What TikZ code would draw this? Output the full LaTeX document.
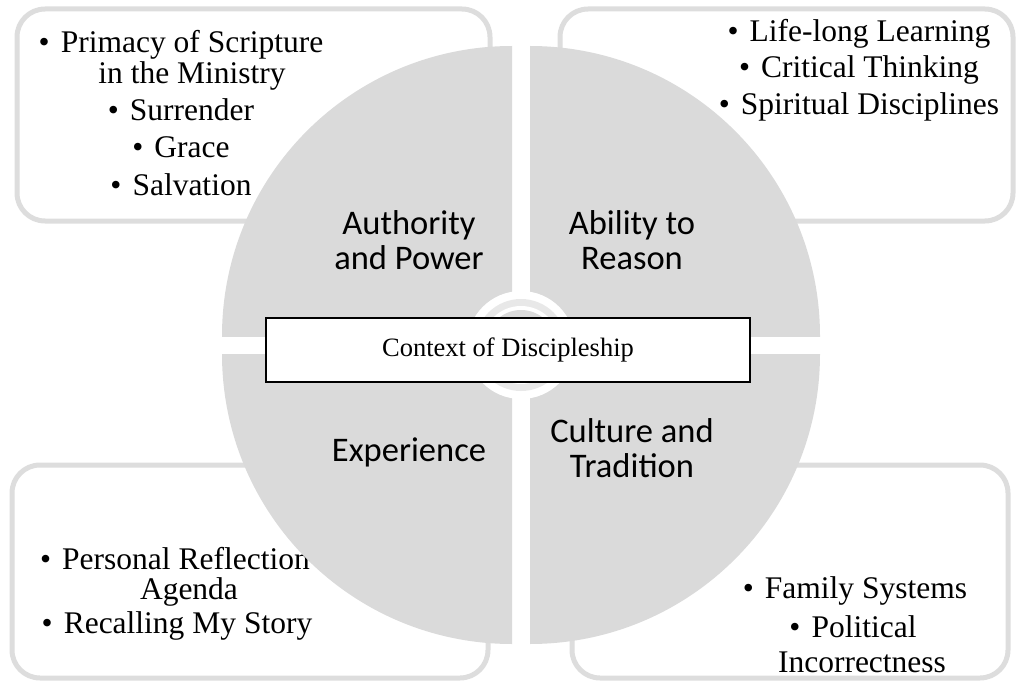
\documentclass[tikz,border=0pt]{standalone}
\usepackage{fontspec}
\setmainfont{Liberation Serif}
\newfontfamily\labelfont{Carlito}

\definecolor{quadgray}{HTML}{DADADA}
\definecolor{framegray}{HTML}{DDDDDD}
\definecolor{ringgray}{HTML}{E8E8E8}

% hanging bullet, so the words stay centred
\newcommand{\bul}{\llap{\textbullet\hspace{0.35em}}}

\begin{document}
\begin{tikzpicture}[
    x=1pt, y=-1pt,
    frame/.style={draw=framegray, line width=5pt, fill=white, rounded corners=28pt},
    point/.style={anchor=base, inner sep=0pt, font=\fontsize{31.5}{32}\selectfont},
    quad/.style={align=center, inner sep=0pt, font=\labelfont\fontsize{34.5}{35}\selectfont},
    ctxbox/.style={draw=black, line width=2pt, fill=white, minimum width=484pt, minimum height=64pt, font=\fontsize{26.5}{28}\selectfont}
]

\useasboundingbox (0,0) rectangle (1018,682);

% Outer frames (partly hidden by the wheel)
\draw[frame] (17,9) rectangle (490,221);
\draw[frame] (560,9) rectangle (1013,221);
\draw[frame] (12,465) rectangle (488,678);
\draw[frame] (572,465) rectangle (1008,678);

% Points in each frame
\node[point] (prim) at (192,53) {\bul Primacy of Scripture};
\node[point] (prim2) at (192,84) {in the Ministry};
\node[point] (surr) at (192,121) {\bul Surrender};
\node[point] (grace) at (192,158) {\bul Grace};
\node[point] (salv) at (192,196) {\bul Salvation};

\node[point] (learn) at (870,42) {\bul Life-long Learning};
\node[point] (crit) at (870,78) {\bul Critical Thinking};
\node[point] (spir) at (870,115) {\bul Spiritual Disciplines};

\node[point] (refl) at (186,569) {\bul Personal Reflection};
\node[point] (agenda) at (189,599) {Agenda};
\node[point] (story) at (188,633) {\bul Recalling My Story};

\node[point] (fam) at (866,598) {\bul Family Systems};
\node[point] (pol) at (864,637) {\bul Political};
\node[point] (incor) at (862,672) {Incorrectness};

% The four quarters of the wheel
\begin{scope} \clip (0,0) rectangle (512,336); \fill[quadgray] (512,336) circle (290pt); \end{scope}
\begin{scope} \clip (530,0) rectangle (1018,336); \fill[quadgray] (530,336) circle (290pt); \end{scope}
\begin{scope} \clip (0,354) rectangle (512,682); \fill[quadgray] (512,354) circle (290pt); \end{scope}
\begin{scope} \clip (530,354) rectangle (1018,682); \fill[quadgray] (530,354) circle (290pt); \end{scope}

% Hub rings
\fill[white] (521,345) circle (54pt);
\fill[ringgray] (521,345) circle (46pt);
\fill[white] (521,345) circle (39pt);
\fill[quadgray] (521,345) circle (35pt);

% Centre box
\node[ctxbox] (ctx) at (508,350) {Context of Discipleship};

% Quarter labels
\node[quad] (auth) at (409,240) {Authority\\and Power};
\node[quad] (reason) at (632,240) {Ability to\\Reason};
\node[quad] (exper) at (409,452) {Experience};
\node[quad] (cult) at (632,448) {Culture and\\Tradition};

\end{tikzpicture}
\end{document}
